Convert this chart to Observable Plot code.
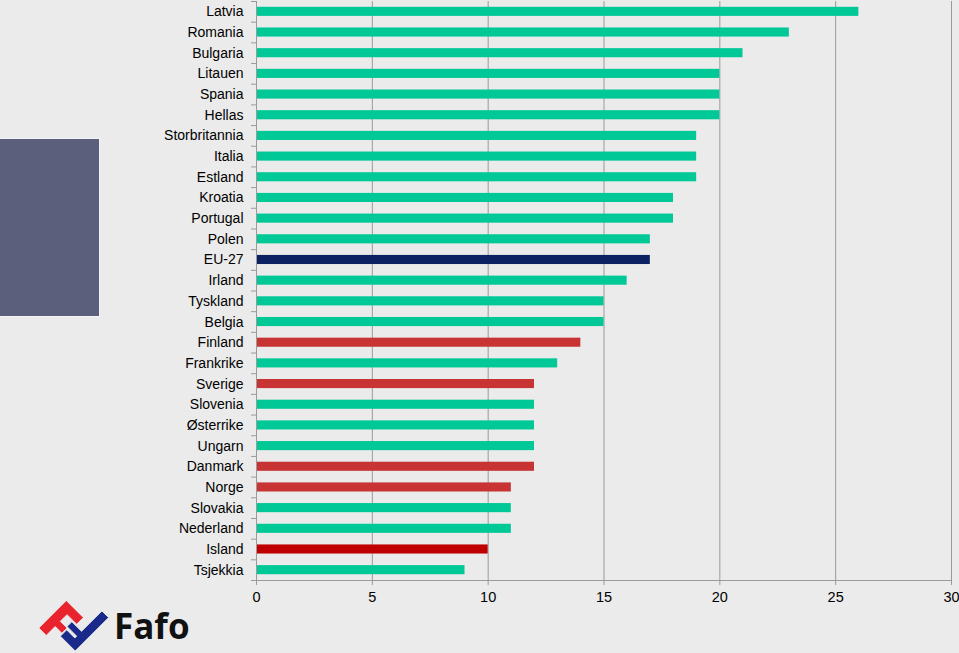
<!DOCTYPE html>
<html><head><meta charset="utf-8">
<script src="https://cdn.jsdelivr.net/npm/d3@7"></script>
<script src="https://cdn.jsdelivr.net/npm/@observablehq/plot@0.6"></script>
<style>
html,body{margin:0;padding:0;background:#ebebeb;width:959px;height:653px;overflow:hidden;font-family:"Liberation Sans",Arial,sans-serif;}
#wrap{position:relative;width:959px;height:653px;}
#slate{position:absolute;left:0;top:138px;width:99px;height:177px;background:#5b5f7b;border:1px solid #f4f4f8;border-left:none;}
#logo{position:absolute;left:0;top:590px;}
#chart{position:absolute;left:0;top:0;}
</style></head>
<body><div id="wrap"><div id="slate"></div><div id="chart"></div>
<svg id="logo" width="220" height="63" viewBox="0 590 220 63">
  <g transform="translate(70,628) rotate(45) scale(1.05)" stroke="#ebebeb" stroke-width="0.8">
    <path fill="#e8232d" d="M-21,-16 L2,-16 L2,-7 L-11,-7 L-11,2 L-2,2 L-2,9 L-11,9 L-11,21 L-21,21 Z"/>
    <path fill="#1a2a8a" d="M19,-33 L19,12 L-1,12 L-1,3.5 L10,3.5 L10,1 L-3,1 L-3,-5.5 L10,-5.5 L10,-33 Z"/>
  </g>
  <text x="114" y="639" font-family="Open Sans, Liberation Sans, Arial" font-weight="bold" font-size="35" fill="#111">Fafo</text>
</svg>
</div>
<script>
const countries = ["Latvia","Romania","Bulgaria","Litauen","Spania","Hellas","Storbritannia","Italia","Estland","Kroatia","Portugal","Polen","EU-27","Irland","Tyskland","Belgia","Finland","Frankrike","Sverige","Slovenia","Østerrike","Ungarn","Danmark","Norge","Slovakia","Nederland","Island","Tsjekkia"];
const values = [26,23,21,20,20,20,19,19,19,18,18,17,17,16,15,15,14,13,12,12,12,12,12,11,11,11,10,9];
const groups = ["other","other","other","other","other","other","other","other","other","other","other","other","eu","other","other","other","nordic","other","nordic","other","other","other","nordic","nordic","other","other","iceland","other"];
const xTicks = [0,5,10,15,20,25,30];

const data = countries.map((c,i)=>({country:c, value:values[i], group:groups[i]}));
const W = 959, H = 653, mT = 1, mB = 73, mL = 256, mR = 8;
const step = (H - mB - mT) / countries.length;
const tickLen = 5 / ((W - mL - mR) / 30);

const chart = Plot.plot({
  width: W, height: H,
  marginTop: mT, marginBottom: mB, marginLeft: mL, marginRight: mR,
  style: {background: "transparent", fontFamily: "Liberation Sans, Arial, sans-serif", fontSize: "14px", color: "#000"},
  x: {domain: [0,30]},
  y: {domain: countries, paddingInner: 0.56, paddingOuter: 0.28, align: 0.5, round: false},
  color: {domain: ["other","eu","nordic","iceland"], range: ["#00c896","#0b2162","#c83434","#c00000"]},
  marks: [
    Plot.gridX(xTicks.slice(1), {stroke: "#9a9a9a", strokeOpacity: 1}),
    Plot.barX(data, {y: "country", x: "value", fill: "group"}),
    Plot.ruleX([0], {stroke: "#9a9a9a"}),
    Plot.ruleY(countries, {y: d => d, x1: -tickLen, x2: 0, dy: -step/2, stroke: "#9a9a9a"}),
    Plot.ruleY([countries[countries.length-1]], {y: d => d, x1: -tickLen, x2: 30, dy: step/2, stroke: "#9a9a9a"}),
    Plot.axisX(xTicks, {tickSize: 5, tickPadding: 6, stroke: "#9a9a9a", fill: "#000", fontSize: 14.5, label: null}),
    Plot.axisY({tickSize: 0, tickPadding: 13, fontSize: 14, label: null, fill: "#000"})
  ]
});
document.getElementById("chart").appendChild(chart);
</script>
</body></html>
